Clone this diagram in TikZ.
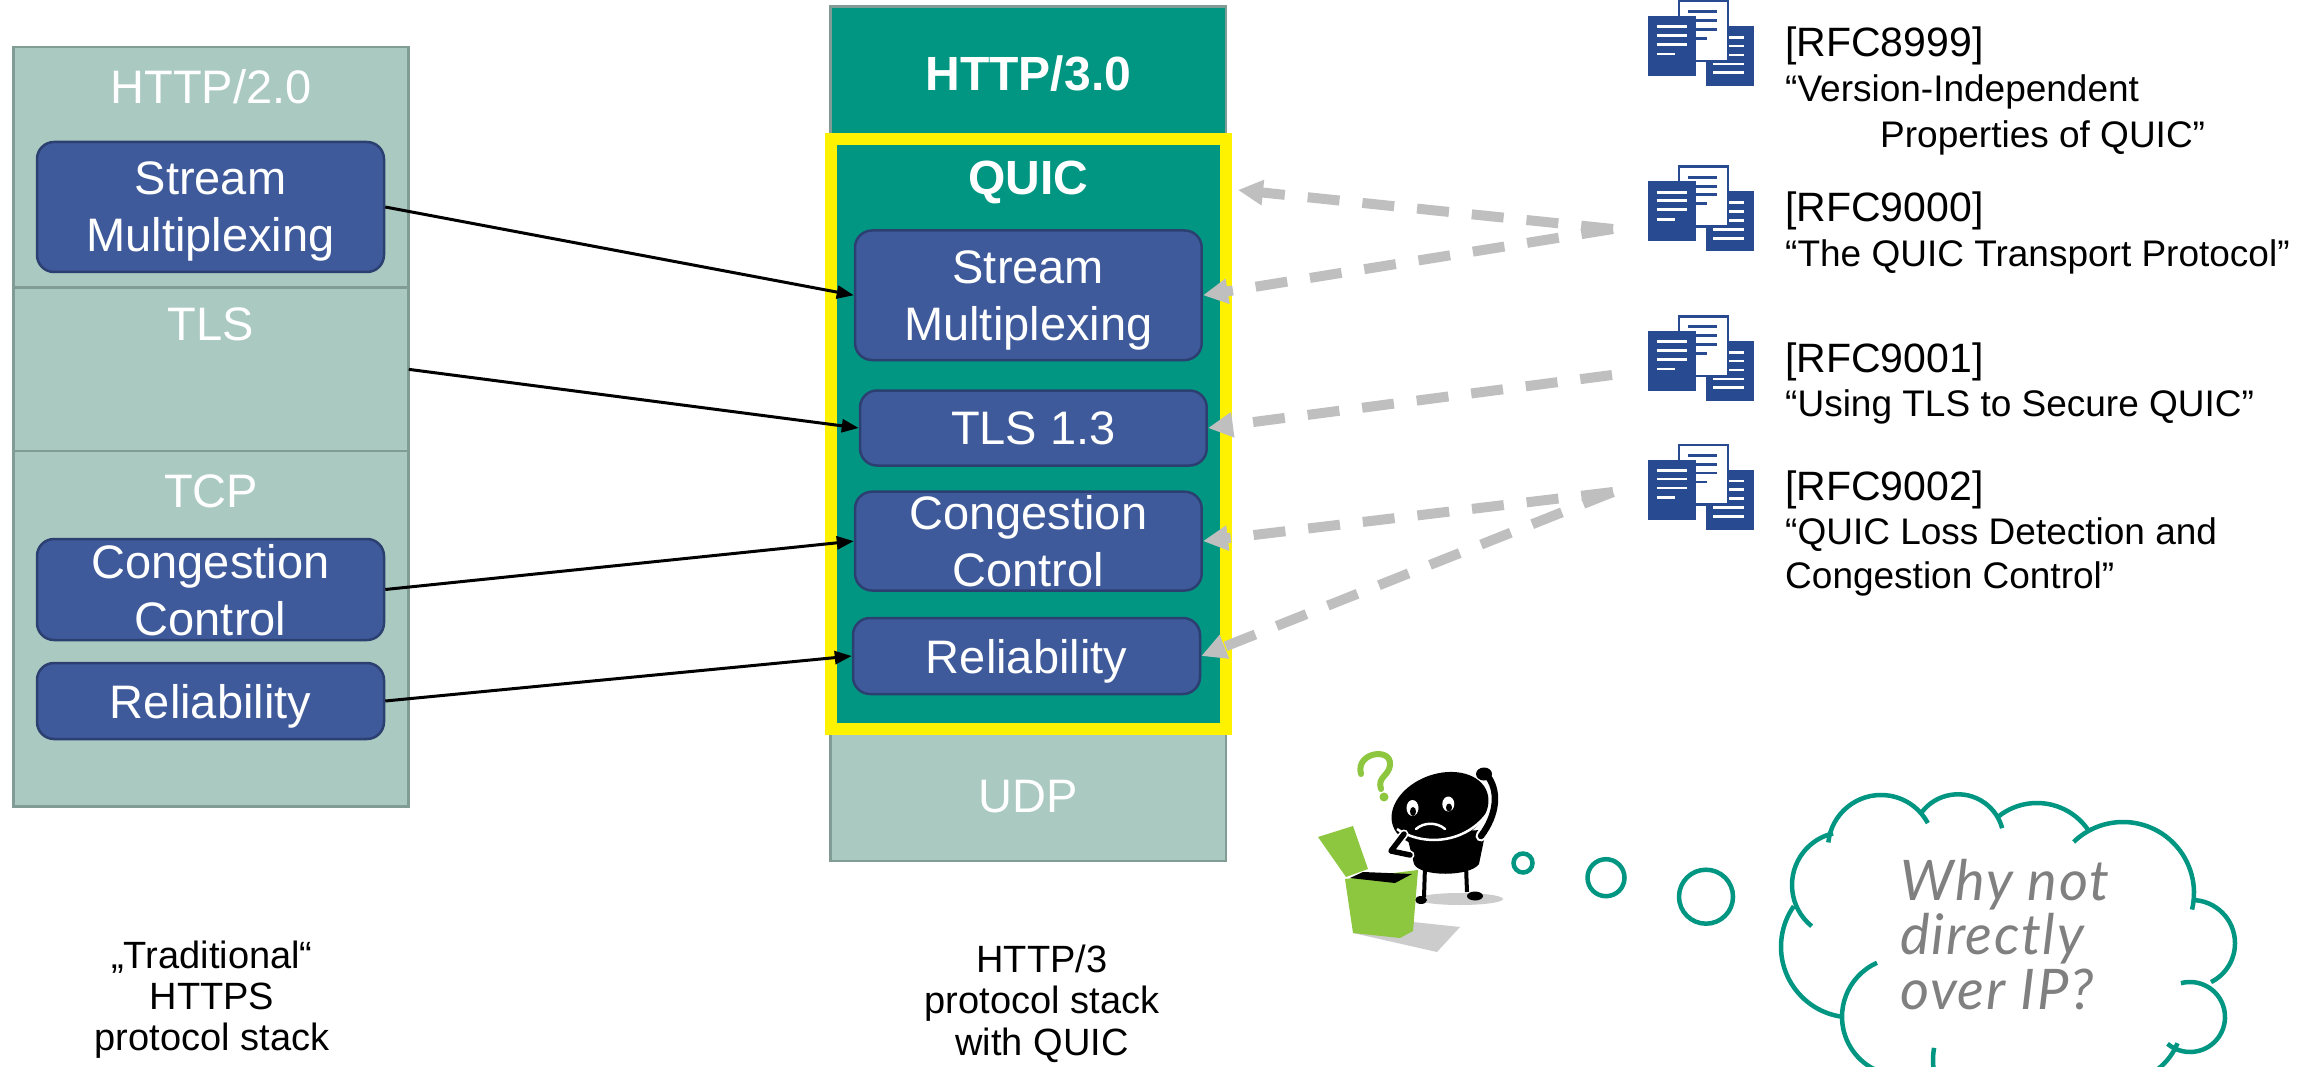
\documentclass[tikz,border=0pt]{standalone}
\usepackage{fontspec}
\setmainfont{Liberation Sans}
\newfontfamily\handfont{Lato}[LetterSpace=3]
\usetikzlibrary{arrows.meta}

\definecolor{stackgray}{HTML}{AAC9C0}
\definecolor{stackedge}{HTML}{819C95}
\definecolor{quicteal}{HTML}{009682}
\definecolor{boxblue}{HTML}{3F5A9B}
\definecolor{boxedge}{HTML}{2C3F71}
\definecolor{docblue}{HTML}{284A91}
\definecolor{refgray}{HTML}{BFBFBF}
\definecolor{boxgreen}{HTML}{8DC63F}
\definecolor{shadowgray}{HTML}{CCCCCC}
\definecolor{thoughtgray}{HTML}{808080}

\tikzset{
  layer/.style={draw=stackedge, line width=2.5pt, inner sep=0pt, outer sep=0pt},
  bluebox/.style={rounded corners=17pt, fill=boxblue, draw=boxedge, line width=2.5pt,
    text=white, font=\fontsize{47}{57}\selectfont, align=center, text depth=0pt, inner sep=0pt},
  stacklabel/.style={text=white, font=\fontsize{47}{57}\selectfont, anchor=base, inner sep=0pt},
  boldlabel/.style={text=white, font=\bfseries\fontsize{48}{57}\selectfont, anchor=base, inner sep=0pt},
  linkarrow/.style={draw=black, line width=3pt, -{Triangle[length=17pt,width=13pt]}},
  refarrow/.style={draw=refgray, line width=10pt, dash pattern=on 32pt off 23pt,
    -{Triangle[length=25pt,width=24pt]}},
  rfcid/.style={anchor=base west, inner sep=0pt, font=\fontsize{41}{49}\selectfont},
  rfcdesc/.style={anchor=base west, inner sep=0pt, font=\fontsize{37}{44}\selectfont},
  caption/.style={anchor=base, inner sep=0pt, font=\fontsize{38}{44}\selectfont},
  thought/.style={anchor=base west, inner sep=0pt, text=thoughtgray,
    font=\handfont\itshape\fontsize{56}{60}\selectfont},
  cloudline/.style={draw=quicteal, line width=4.5pt},
  bubble/.style={circle, draw=quicteal, line width=4.5pt, inner sep=0pt},
  rfcdoc/.pic={
    % back-right page
    \fill[docblue] (58,26) rectangle (106,86);
    \foreach \yy in {37.3,46,55,64,72.7}
      \draw[white, line width=2.7pt] (65.3,\yy) -- (96,\yy);
    % middle white page
    \filldraw[fill=white, draw=docblue, line width=2.5pt] (31,1.25) rectangle (80,61);
    \foreach \yy in {11.7,20.7,29.3}
      \draw[docblue, line width=2.7pt] (40.3,\yy) -- (69.3,\yy);
    \draw[docblue, line width=2.7pt] (40.3,38.3) -- (58.7,38.3);
    % front-left page
    \fill[docblue] (0.3,16) rectangle (48,76);
    \foreach \yy in {26.7,35.3,44.3}
      \draw[white, line width=2.7pt] (8.7,\yy) -- (38.7,\yy);
    \draw[white, line width=2.7pt] (8.7,54) -- (27,54);
  }
}

\begin{document}
\begin{tikzpicture}[x=1pt, y=-1pt]
\useasboundingbox (0,0) rectangle (2310,1067);
\fill[white] (0,0) rectangle (2310,1067);

% ---------- classic HTTPS stack ----------
\node[layer, fill=stackgray, minimum width=395.4pt, minimum height=240.9pt] (lhttp) at (211,167.25) {};
\node[layer, fill=stackgray, minimum width=395.4pt, minimum height=163.3pt] (ltls) at (211,369.35) {};
\node[layer, fill=stackgray, minimum width=395.4pt, minimum height=355.5pt] (ltcp) at (211,628.75) {};
\node[stacklabel] (lhttpt) at (211,104) {HTTP/2.0};
\node[stacklabel] (ltlst) at (211,341) {TLS};
\node[stacklabel] (ltcpt) at (211,507) {TCP};
\node[bluebox, minimum width=347pt, minimum height=130pt] (lsm) at (210.5,207) {Stream\\Multiplexing};
\node[bluebox, minimum width=347pt, minimum height=101pt] (lcc) at (210.5,589.5) {Congestion\\Control};
\node[bluebox, minimum width=347pt, minimum height=76pt] (lrel) at (210.5,701) {Reliability};

% ---------- HTTP/3 stack ----------
\node[layer, fill=quicteal, minimum width=395.3pt, minimum height=132.3pt] (mhttp) at (1028.35,72.85) {};
\node[layer, fill=stackgray, minimum width=395.3pt, minimum height=132pt] (mudp) at (1028.35,795) {};
\node[inner sep=0pt, outer sep=0pt, fill=quicteal, draw=yellow, line width=12pt,
      minimum width=395pt, minimum height=590pt] (mquic) at (1028.35,434) {};
\node[boldlabel] (mhttpt) at (1028.35,90.5) {HTTP/3.0};
\node[boldlabel] (mquict) at (1028.35,194.4) {QUIC};
\node[stacklabel] (mudpt) at (1028.35,812) {UDP};
\node[bluebox, minimum width=346.7pt, minimum height=129.5pt] (msm) at (1028.35,295.25) {Stream\\Multiplexing};
\node[bluebox, minimum width=346.7pt, minimum height=75pt] (mtls) at (1033.35,428) {TLS 1.3};
\node[bluebox, minimum width=346.7pt, minimum height=98.8pt] (mcc) at (1028.35,541.1) {Congestion\\Control};
\node[bluebox, minimum width=347pt, minimum height=76pt] (mrel) at (1026.5,656) {Reliability};

% ---------- function mapping ----------
\draw[linkarrow] (lsm.east) -- (msm.west);
\draw[linkarrow] (ltls.east) -- (mtls.west);
\draw[linkarrow] (lcc.east) -- (mcc.west);
\draw[linkarrow] (lrel.east) -- (mrel.west);

% ---------- RFC documents ----------
\pic (doc8999) at (1648,0) {rfcdoc};
\pic (doc9000) at (1648,165.5) {rfcdoc};
\pic (doc9001) at (1648,315) {rfcdoc};
\pic (doc9002) at (1648,443.7) {rfcdoc};

\node[rfcid] (r8999) at (1785,57) {[RFC8999]};
\node[rfcdesc] (d8999a) at (1785,101.5) {“Version-Independent};
\node[rfcdesc] (d8999b) at (1880,147.5) {Properties of QUIC”};
\node[rfcid] (r9000) at (1785,222) {[RFC9000]};
\node[rfcdesc] (d9000) at (1785,267) {“The QUIC Transport Protocol”};
\node[rfcid] (r9001) at (1785,372) {[RFC9001]};
\node[rfcdesc] (d9001) at (1785,416) {“Using TLS to Secure QUIC”};
\node[rfcid] (r9002) at (1785,500) {[RFC9002]};
\node[rfcdesc] (d9002a) at (1785,544) {“QUIC Loss Detection and};
\node[rfcdesc] (d9002b) at (1785,588) {Congestion Control”};

\coordinate (c9000) at (1613,229);
\coordinate (c9001) at (1612,375);
\coordinate (c9002) at (1613,492);
\coordinate (quicin) at (1238,190);
\draw[refarrow] (c9000) -- (quicin);
\draw[refarrow] (c9000) -- (msm.east);
\draw[refarrow] (c9001) -- (mtls.east);
\draw[refarrow] (c9002) -- (mcc.east);
\draw[refarrow] (c9002) -- (mrel.east);

% ---------- captions ----------
\node[caption] (cap1a) at (212,968) {„Traditional“};
\node[caption] (cap1b) at (212,1009) {HTTPS};
\node[caption] (cap1c) at (212,1050) {protocol stack};
\node[caption] (cap2a) at (1042,972) {HTTP/3};
\node[caption] (cap2b) at (1042,1013) {protocol stack};
\node[caption] (cap2c) at (1042,1055) {with QUIC};

% ---------- puzzled figure with an open box ----------
\fill[shadowgray] (1353,933) -- (1413,922) -- (1460,927) -- (1437,952) -- cycle;
\fill[shadowgray] (1460,899) ellipse [x radius=43, y radius=6];
\draw[line width=4pt] (1425,866) -- (1424,897);
\draw[line width=4pt] (1466,866) -- (1467,892);
\fill (1421,900) ellipse [x radius=6, y radius=4];
\fill (1475,896) ellipse [x radius=8, y radius=4.5];
\fill (1406,832) -- (1414,864) .. controls (1420,877) and (1470,877) .. (1479,864) -- (1486,830) -- cycle;
\fill[rotate around={20:(1440,809)}] (1440,809) ellipse [x radius=50, y radius=35];
\draw[white, line width=2.5pt] (1397,829) .. controls (1425,848) and (1470,843) .. (1491,808);
\fill[white] (1412.5,808) ellipse [x radius=6, y radius=8];
\fill (1413,811.5) ellipse [x radius=3, y radius=4.5];
\fill[white] (1448.3,804) ellipse [x radius=6, y radius=7.5];
\fill (1449,807.5) ellipse [x radius=3, y radius=4];
\draw[white, line width=2.5pt, line cap=round] (1416,829) .. controls (1424,822) and (1437,822) .. (1445,829);
\draw[white, line width=9pt, line cap=round, line join=round] (1404,834) -- (1391,851) -- (1410,855);
\draw[line width=5.5pt, line cap=round, line join=round] (1404,834) -- (1391,851) -- (1410,855);
\draw[white, line width=11pt, line cap=round] (1481,836) .. controls (1497,815) and (1500,790) .. (1486,774);
\draw[line width=6.5pt, line cap=round] (1481,836) .. controls (1497,815) and (1500,790) .. (1486,774);
\fill (1484,774) ellipse [x radius=8, y radius=6.5];
\draw[boxgreen, line width=6pt, line cap=round] (1361,774) .. controls (1355,752) and (1392,747) .. (1390,765)
  .. controls (1389,776) and (1377,777) .. (1381,789);
\fill[boxgreen] (1384,797) circle [radius=4.5];
\fill[boxgreen] (1318,837) -- (1353,826) -- (1368,869) -- (1346,877) -- cycle;
\fill[boxgreen] (1345,879) -- (1418,870) -- (1413,931) -- (1400,938) -- (1353,933) -- cycle;
\fill (1350,878) -- (1363,872) -- (1412,874) -- (1395,883) -- cycle;

% ---------- thought bubbles ----------
\node[bubble, minimum size=19pt] (bub1) at (1523,863) {};
\node[bubble, minimum size=37pt] (bub2) at (1606,877.7) {};
\node[bubble, minimum size=54pt] (bub3) at (1706,896.7) {};

\begin{scope}
\clip (0,0) rectangle (2310,1067);
\draw[cloudline] (1845,885) ++(129:53) arc[start angle=129, end angle=257, radius=53];
\draw[cloudline] (1881,848) ++(186:53) arc[start angle=186, end angle=332, radius=53];
\draw[cloudline] (1958,840) ++(216:45.7) arc[start angle=216, end angle=345, radius=45.7];
\draw[cloudline] (2037,865) ++(232:62) arc[start angle=232, end angle=325, radius=62];
\draw[cloudline] (2123,893) ++(226:71) arc[start angle=226, end angle=373.5, radius=71];
\draw[cloudline] (2191.7,943.3) ++(270:43.3) arc[start angle=270, end angle=423.5, radius=43.3];
\draw[cloudline] (2190,1017) ++(255:35) arc[start angle=255, end angle=490, radius=35];
\draw[cloudline] (2120,1020) ++(22:62) arc[start angle=22, end angle=60, radius=62];
\draw[cloudline] (2003,1060) ++(190:70) arc[start angle=190, end angle=140, radius=70];
\draw[cloudline] (1901,1016.7) ++(246:59) arc[start angle=246, end angle=95, radius=59];
\draw[cloudline] (1851.7,946.7) ++(98:70.7) arc[start angle=98, end angle=215, radius=70.7];
\end{scope}

\node[thought] (why1) at (1900,900.7) {Why not};
\node[thought] (why2) at (1900,954) {directly};
\node[thought] (why3) at (1900,1009.3) {over IP?};
\end{tikzpicture}
\end{document}
